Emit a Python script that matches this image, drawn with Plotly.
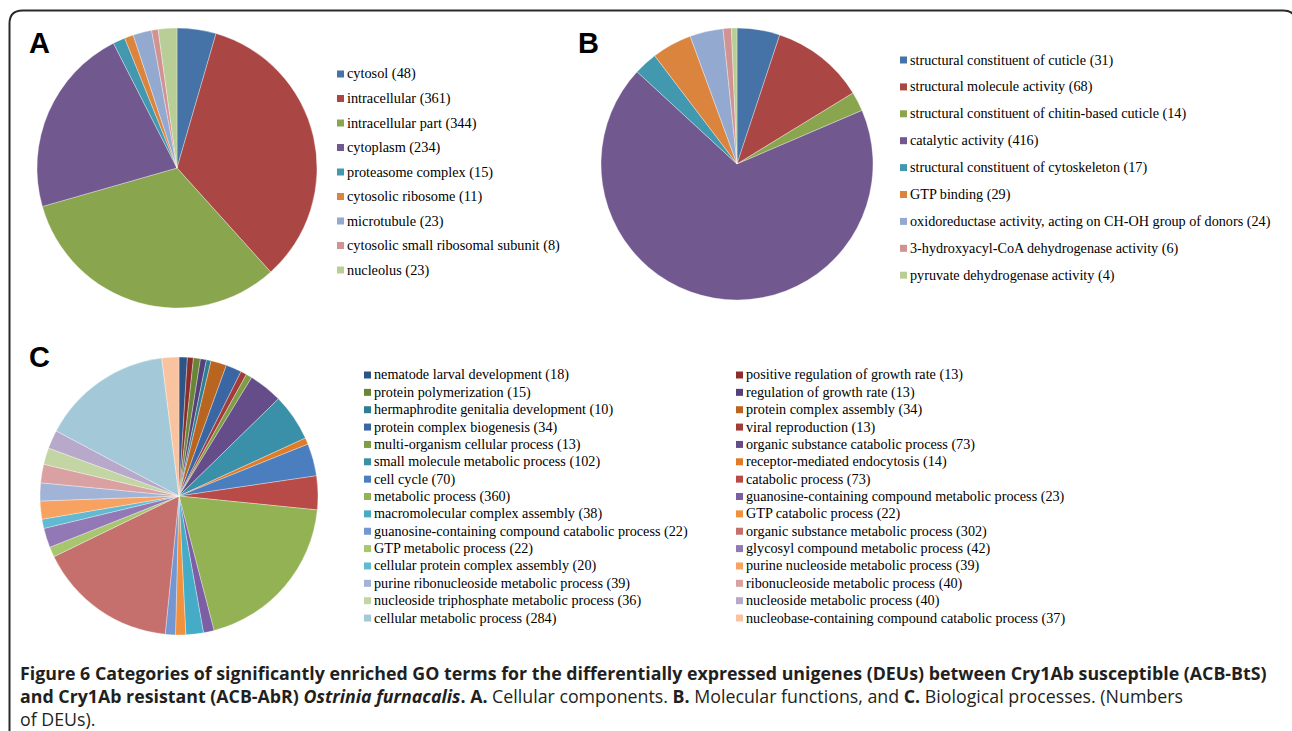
import plotly.graph_objects as go

W, H = 1292, 731

# ---------------- data ----------------
# A. Cellular components
cc_labels = ["cytosol", "intracellular", "intracellular part", "cytoplasm",
             "proteasome complex", "cytosolic ribosome", "microtubule",
             "cytosolic small ribosomal subunit", "nucleolus"]
cc_values = [48, 361, 344, 234, 15, 11, 23, 8, 23]

# B. Molecular functions
mf_labels = ["structural constituent of cuticle", "structural molecule activity",
             "structural constituent of chitin-based cuticle", "catalytic activity",
             "structural constituent of cytoskeleton", "GTP binding",
             "oxidoreductase activity, acting on CH-OH group of donors",
             "3-hydroxyacyl-CoA dehydrogenase activity", "pyruvate dehydrogenase activity"]
mf_values = [31, 68, 14, 416, 17, 29, 24, 6, 4]

# C. Biological processes
bp_labels = ["nematode larval development", "positive regulation of growth rate",
             "protein polymerization", "regulation of growth rate",
             "hermaphrodite genitalia development", "protein complex assembly",
             "protein complex biogenesis", "viral reproduction",
             "multi-organism cellular process", "organic substance catabolic process",
             "small molecule metabolic process", "receptor-mediated endocytosis",
             "cell cycle", "catabolic process",
             "metabolic process", "guanosine-containing compound metabolic process",
             "macromolecular complex assembly", "GTP catabolic process",
             "guanosine-containing compound catabolic process", "organic substance metabolic process",
             "GTP metabolic process", "glycosyl compound metabolic process",
             "cellular protein complex assembly", "purine nucleoside metabolic process",
             "purine ribonucleoside metabolic process", "ribonucleoside metabolic process",
             "nucleoside triphosphate metabolic process", "nucleoside metabolic process",
             "cellular metabolic process", "nucleobase-containing compound catabolic process"]
bp_values = [18, 13, 15, 13, 10, 34, 34, 13, 13, 73, 102, 14, 70, 73, 360, 23,
             38, 22, 22, 302, 22, 42, 20, 39, 39, 40, 36, 40, 284, 37]

# ---------------- colours ----------------
colors_ab = ["#4572A7", "#AA4643", "#89A54E", "#71588F", "#4198AF",
             "#DB843D", "#93A9CF", "#D19392", "#B9CD96"]
colors_c = ["#2C5486", "#8B2E2C", "#6A8538", "#55407A", "#2E7F94", "#B9651F",
            "#3A67A3", "#A33B39", "#7E9D45", "#654D8A", "#3A90A8", "#E07B28",
            "#4A7EBF", "#B84A47", "#93B254", "#7B5EA3", "#45ACC8", "#F0913E",
            "#7497D1", "#C6706E", "#A8C66E", "#9279B5", "#62B9D2", "#F7A260",
            "#A1B4D8", "#D9A1A1", "#C2D5A2", "#B8A9CB", "#A3C9D8", "#F9C3A0"]


def X(px):
    return px / W


def Y(py):
    return 1 - py / H


def domain(cx, cy, r):
    return dict(x=[X(cx - r), X(cx + r)], y=[Y(cy + r), Y(cy - r)])


def pie(labels, values, colors, dom):
    return go.Pie(labels=labels, values=values, sort=False, direction="clockwise",
                  rotation=0, textinfo="none", showlegend=False, domain=dom,
                  marker=dict(colors=colors, line=dict(color="rgba(255,255,255,0.55)", width=0.6)),
                  hovertemplate="%{label}: %{value}<extra></extra>")


fig = go.Figure()
fig.add_trace(pie(cc_labels, cc_values, colors_ab, domain(177, 168, 140)))
fig.add_trace(pie(mf_labels, mf_values, colors_ab, domain(737, 164, 136)))
fig.add_trace(pie(bp_labels, bp_values, colors_c, domain(179, 496, 139)))

shapes = []
annotations = []

SERIF = "Liberation Serif, Times New Roman, serif"


def add_legend(labels, values, colors, x_mark, y0, dy, size, fs, ncols=1, col_dx=0):
    for i, (lab, val, col) in enumerate(zip(labels, values, colors)):
        row, c = divmod(i, ncols)
        xm = x_mark + c * col_dx
        yc = y0 + row * dy
        shapes.append(dict(type="rect", xref="paper", yref="paper",
                           x0=X(xm), x1=X(xm + size), y0=Y(yc + size / 2), y1=Y(yc - size / 2),
                           fillcolor=col, line=dict(width=0)))
        annotations.append(dict(xref="paper", yref="paper", x=X(xm + size + 1), y=Y(yc),
                                xanchor="left", yanchor="middle", showarrow=False,
                                text=f"{lab} ({val})",
                                font=dict(family=SERIF, size=fs, color="#000")))


add_legend(cc_labels, cc_values, colors_ab, 337, 74, 24.5, 7, 14.3)
add_legend(mf_labels, mf_values, colors_ab, 900, 60, 26.9, 7, 14.2)
add_legend(bp_labels, bp_values, colors_c, 364, 375, 17.36, 7, 14.2, ncols=2, col_dx=372)

# panel letters
for letter, lx, ly in [("A", 27, 43), ("B", 576, 43), ("C", 27, 357)]:
    annotations.append(dict(xref="paper", yref="paper", x=X(lx), y=Y(ly), xanchor="left",
                            yanchor="middle", showarrow=False, text=f"<b>{letter}</b>",
                            font=dict(family="Liberation Sans, Arial, sans-serif", size=29, color="#000")))

# caption (one block, three lines)
CAP = "Open Sans, Noto Sans, sans-serif"
caption = (
    "<b>Figure 6 Categories of significantly enriched GO terms for the differentially expressed "
    "unigenes (DEUs) between Cry1Ab susceptible (ACB-BtS)</b><br>"
    "<b>and Cry1Ab resistant (ACB-AbR) <i>Ostrinia furnacalis</i>. A.</b> Cellular components. "
    "<b>B.</b> Molecular functions, and <b>C.</b> Biological processes. (Numbers<br>"
    "of DEUs)."
)
annotations.append(dict(xref="paper", yref="paper", x=X(18), y=Y(659), xanchor="left",
                        yanchor="top", align="left", showarrow=False, text=caption,
                        font=dict(family=CAP, size=17.8, color="#231F20")))

# outer frame with rounded top corners
r = 13
frame = (f"M {X(9.5)},{Y(731)} L {X(9.5)},{Y(10.5 + r)} Q {X(9.5)},{Y(10.5)} {X(9.5 + r)},{Y(10.5)} "
         f"L {X(1296 - r)},{Y(10.5)} Q {X(1296)},{Y(10.5)} {X(1296)},{Y(10.5 + r)} L {X(1296)},{Y(731)}")
shapes.append(dict(type="path", xref="paper", yref="paper", path=frame,
                   line=dict(color="#2a2a2a", width=2)))

fig.update_layout(width=W, height=H, margin=dict(l=0, r=0, t=0, b=0),
                  paper_bgcolor="white", plot_bgcolor="white",
                  shapes=shapes, annotations=annotations)

fig.write_html("out.html")
